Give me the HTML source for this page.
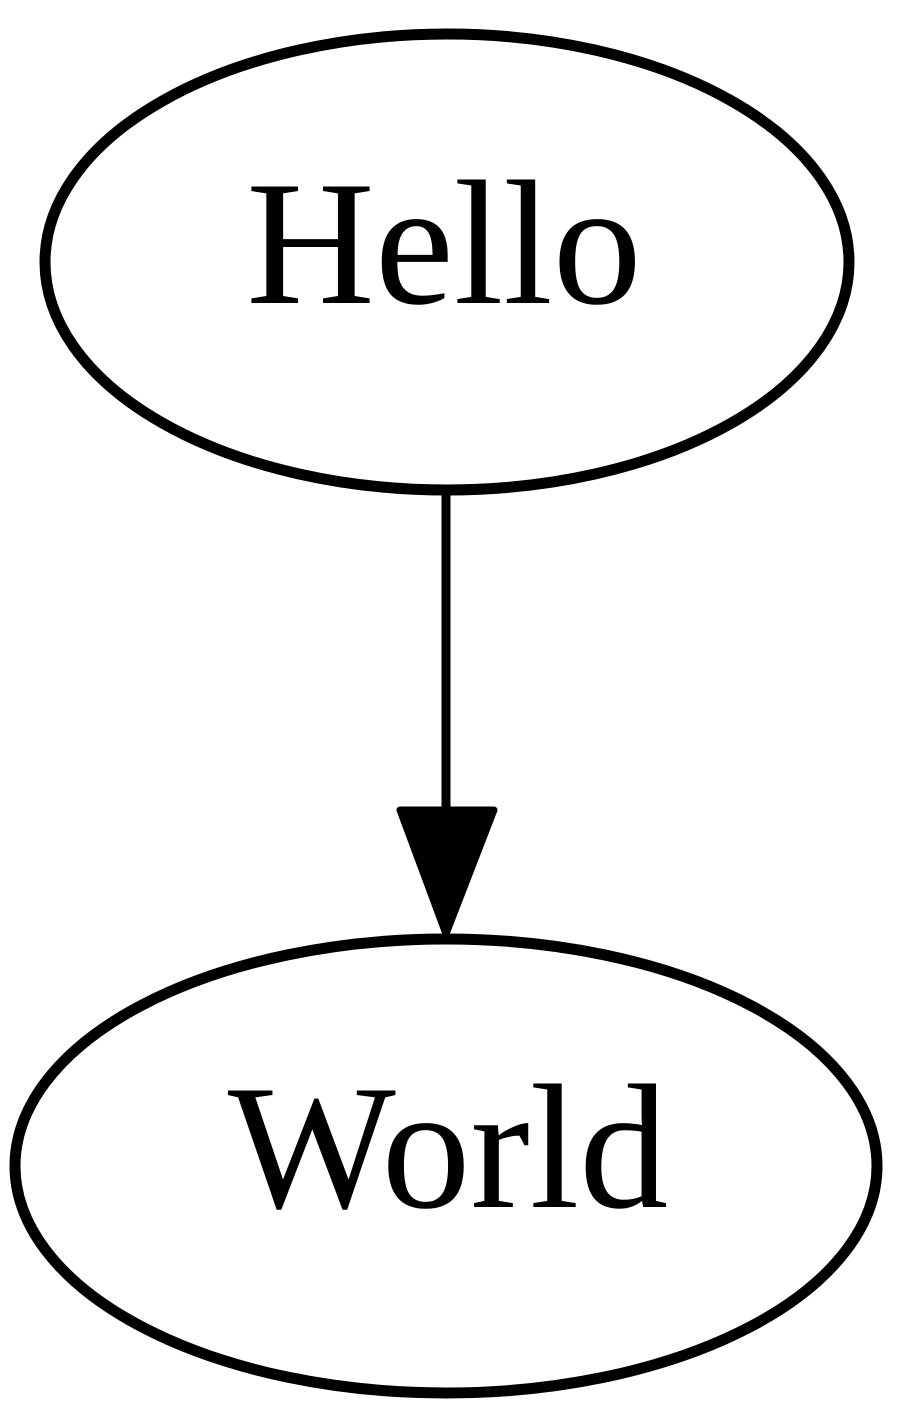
<!DOCTYPE html>
<html><head><style>html,body{margin:0;padding:0;background:#fff;}svg{display:block}</style></head>
<body>
<svg width="905" height="1417" viewBox="0 0 905 1417" xmlns="http://www.w3.org/2000/svg">
<ellipse cx="447" cy="262" rx="402" ry="228" fill="none" stroke="#000" stroke-width="11"/>
<text x="444" y="303" text-anchor="middle" font-family="Liberation Serif, serif" font-size="178" fill="#000">Hello</text>
<line x1="446" y1="492" x2="446" y2="812" stroke="#000" stroke-width="9"/>
<polygon points="400,810 494,810 446,934" fill="#000" stroke="#000" stroke-width="7" stroke-linejoin="round"/>
<ellipse cx="446" cy="1166" rx="431" ry="227" fill="none" stroke="#000" stroke-width="11"/>
<text x="448" y="1207" text-anchor="middle" font-family="Liberation Serif, serif" font-size="178" fill="#000">World</text>
</svg>
</body></html>
